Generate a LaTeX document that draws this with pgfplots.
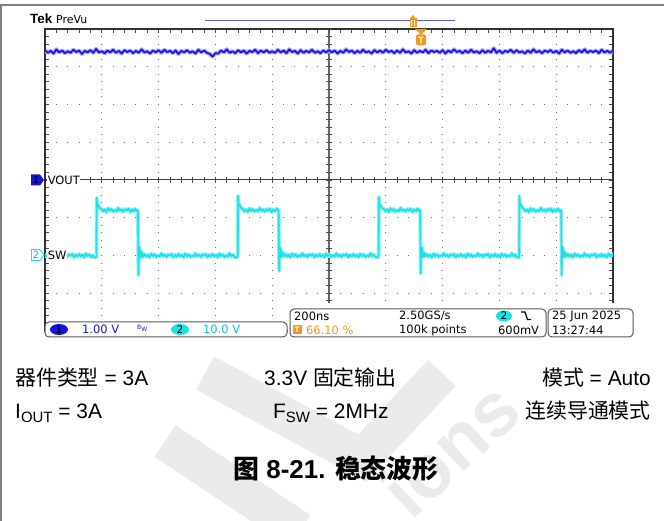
\documentclass[border=0pt]{standalone}
\usepackage{pgfplots}
\usepackage{pgfplotstable}
\pgfplotsset{compat=1.18}
\usepackage{fontspec}
\setmainfont{Liberation Sans}
\newfontfamily\cjk{Noto Sans CJK SC}
\newfontfamily\tekfont{DejaVu Sans}
\newcommand\fs[1]{\fontsize{#1}{#1}\selectfont}

\definecolor{chone}{RGB}{20,20,225}
\definecolor{chtwo}{RGB}{30,225,230}
\definecolor{chtwotxt}{RGB}{0,200,210}
\definecolor{trig}{RGB}{245,150,30}
\definecolor{grat}{RGB}{110,110,110}
\definecolor{recbar}{RGB}{90,90,230}

% VOUT, x in divisions (200 ns/div), y in divisions (1 V/div, ground at 0)
\pgfplotstableread{
x y
0.00 3.44
0.05 3.37
0.10 3.42
0.15 3.35
0.20 3.46
0.25 3.38
0.30 3.43
0.35 3.36
0.40 3.41
0.45 3.37
0.50 3.45
0.55 3.39
0.60 3.43
0.65 3.34
0.70 3.42
0.75 3.38
0.80 3.44
0.85 3.37
0.90 3.47
0.95 3.38
1.00 3.41
1.05 3.36
1.10 3.43
1.15 3.38
1.20 3.45
1.25 3.37
1.30 3.42
1.35 3.35
1.40 3.44
1.45 3.39
1.50 3.43
1.55 3.36
1.60 3.42
1.65 3.37
1.70 3.46
1.75 3.38
1.80 3.41
1.85 3.35
1.90 3.43
1.95 3.38
2.00 3.44
2.05 3.37
2.10 3.45
2.15 3.39
2.20 3.42
2.25 3.36
2.30 3.43
2.35 3.34
2.40 3.42
2.45 3.38
2.50 3.44
2.55 3.37
2.60 3.41
2.65 3.35
2.70 3.45
2.75 3.38
2.80 3.43
2.85 3.37
2.90 3.34
2.95 3.27
3.00 3.36
3.05 3.35
3.10 3.43
3.15 3.38
3.20 3.46
3.25 3.37
3.30 3.41
3.35 3.36
3.40 3.44
3.45 3.38
3.50 3.43
3.55 3.35
3.60 3.42
3.65 3.39
3.70 3.45
3.75 3.36
3.80 3.43
3.85 3.38
3.90 3.44
3.95 3.37
4.00 3.41
4.05 3.37
4.10 3.45
4.15 3.38
4.20 3.43
4.25 3.36
4.30 3.46
4.35 3.39
4.40 3.42
4.45 3.35
4.50 3.44
4.55 3.37
4.60 3.42
4.65 3.38
4.70 3.45
4.75 3.37
4.80 3.41
4.85 3.36
4.90 3.43
4.95 3.38
5.00 3.44
5.05 3.38
5.10 3.43
5.15 3.35
5.20 3.42
5.25 3.37
5.30 3.46
5.35 3.39
5.40 3.43
5.45 3.36
5.50 3.42
5.55 3.37
5.60 3.45
5.65 3.38
5.70 3.41
5.75 3.35
5.80 3.44
5.85 3.38
5.90 3.43
5.95 3.37
6.00 3.45
6.05 3.39
6.10 3.42
6.15 3.36
6.20 3.43
6.25 3.37
6.30 3.46
6.35 3.38
6.40 3.41
6.45 3.35
6.50 3.44
6.55 3.37
6.60 3.42
6.65 3.38
6.70 3.45
6.75 3.36
6.80 3.43
6.85 3.39
6.90 3.42
6.95 3.37
7.00 3.44
7.05 3.35
7.10 3.43
7.15 3.38
7.20 3.46
7.25 3.39
7.30 3.42
7.35 3.36
7.40 3.43
7.45 3.37
7.50 3.45
7.55 3.38
7.60 3.41
7.65 3.36
7.70 3.44
7.75 3.37
7.80 3.42
7.85 3.38
7.90 3.49
7.95 3.37
8.00 3.43
8.05 3.36
8.10 3.42
8.15 3.39
8.20 3.45
8.25 3.37
8.30 3.44
8.35 3.38
8.40 3.41
8.45 3.35
8.50 3.43
8.55 3.37
8.60 3.46
8.65 3.38
8.70 3.42
8.75 3.36
8.80 3.43
8.85 3.39
8.90 3.44
8.95 3.37
9.00 3.42
9.05 3.35
9.10 3.45
9.15 3.38
9.20 3.43
9.25 3.37
9.30 3.41
9.35 3.36
9.40 3.44
9.45 3.38
9.50 3.46
9.55 3.37
9.60 3.42
9.65 3.39
9.70 3.43
9.75 3.36
9.80 3.45
9.85 3.38
9.90 3.42
9.95 3.37
10.00 3.43
}\vout

% SW, x in divisions, y in divisions (10 V/div, ground at -2)
\pgfplotstableread{
x y
0.00 -1.96
0.03 -2.03
0.06 -1.98
0.09 -2.05
0.12 -1.95
0.15 -2.02
0.18 -1.97
0.21 -2.04
0.24 -1.99
0.27 -2.03
0.30 -1.94
0.33 -2.02
0.36 -1.98
0.39 -2.04
0.42 -1.97
0.45 -2.01
0.48 -1.96
0.51 -2.05
0.54 -1.98
0.57 -2.03
0.60 -1.96
0.63 -2.03
0.66 -1.98
0.69 -2.05
0.72 -1.95
0.75 -2.02
0.78 -1.97
0.81 -2.04
0.84 -1.99
0.87 -2.06
0.90 -2.04
0.905 -2.02
0.910 -0.47
0.918 -0.62
0.926 -0.70
0.94 -0.66
0.96 -0.74
0.99 -0.76
1.02 -0.83
1.05 -0.78
1.08 -0.85
1.11 -0.75
1.14 -0.82
1.17 -0.77
1.20 -0.84
1.23 -0.79
1.26 -0.83
1.29 -0.74
1.32 -0.82
1.35 -0.78
1.38 -0.84
1.41 -0.77
1.44 -0.81
1.47 -0.76
1.50 -0.85
1.53 -0.78
1.56 -0.83
1.59 -0.76
1.62 -0.83
1.632 -0.80
1.637 -0.84
1.645 -2.52
1.652 -1.95
1.665 -1.78
1.68 -2.05
1.70 -1.90
1.72 -2.04
1.75 -1.96
1.78 -2.03
1.81 -1.98
1.84 -2.05
1.87 -1.95
1.90 -2.02
1.93 -1.97
1.96 -2.04
1.99 -1.99
2.02 -2.03
2.05 -1.94
2.08 -2.02
2.11 -1.98
2.14 -2.04
2.17 -1.97
2.20 -2.01
2.23 -1.96
2.26 -2.05
2.29 -1.98
2.32 -2.03
2.35 -1.96
2.38 -2.03
2.41 -1.98
2.44 -2.05
2.47 -1.95
2.50 -2.02
2.53 -1.97
2.56 -2.04
2.59 -1.99
2.62 -2.03
2.65 -1.94
2.68 -2.02
2.71 -1.98
2.74 -2.04
2.77 -1.97
2.80 -2.01
2.83 -1.96
2.86 -2.05
2.89 -1.98
2.92 -2.03
2.95 -1.96
2.98 -2.03
3.01 -1.98
3.04 -2.05
3.07 -1.95
3.10 -2.02
3.13 -1.97
3.16 -2.04
3.19 -1.99
3.22 -2.03
3.25 -1.94
3.28 -2.02
3.31 -1.98
3.34 -2.04
3.37 -2.06
3.395 -2.02
3.400 -0.42
3.408 -0.60
3.416 -0.70
3.43 -0.66
3.45 -0.74
3.48 -0.76
3.51 -0.83
3.54 -0.78
3.57 -0.85
3.60 -0.75
3.63 -0.82
3.66 -0.77
3.69 -0.84
3.72 -0.79
3.75 -0.83
3.78 -0.74
3.81 -0.82
3.84 -0.78
3.87 -0.84
3.90 -0.77
3.93 -0.81
3.96 -0.76
3.99 -0.85
4.02 -0.78
4.05 -0.83
4.08 -0.76
4.11 -0.81
4.114 -0.83
4.122 -2.41
4.13 -1.92
4.145 -1.80
4.16 -2.04
4.18 -1.91
4.20 -2.03
4.23 -1.96
4.26 -2.03
4.29 -1.98
4.32 -2.05
4.35 -1.95
4.38 -2.02
4.41 -1.97
4.44 -2.04
4.47 -1.99
4.50 -2.03
4.53 -1.94
4.56 -2.02
4.59 -1.98
4.62 -2.04
4.65 -1.97
4.68 -2.01
4.71 -1.96
4.74 -2.05
4.77 -1.98
4.80 -2.03
4.83 -1.96
4.86 -2.03
4.89 -1.98
4.92 -2.05
4.95 -1.95
4.98 -2.02
5.01 -1.97
5.04 -2.04
5.07 -1.99
5.10 -2.03
5.13 -1.94
5.16 -2.02
5.19 -1.98
5.22 -2.04
5.25 -1.97
5.28 -2.01
5.31 -1.96
5.34 -2.05
5.37 -1.98
5.40 -2.03
5.43 -1.96
5.46 -2.03
5.49 -1.98
5.52 -2.05
5.55 -1.95
5.58 -2.02
5.61 -1.97
5.64 -2.04
5.67 -1.99
5.70 -2.03
5.73 -1.94
5.76 -2.02
5.79 -1.98
5.82 -2.04
5.85 -2.06
5.873 -2.02
5.878 -0.45
5.886 -0.62
5.894 -0.70
5.91 -0.67
5.93 -0.74
5.96 -0.76
5.99 -0.83
6.02 -0.78
6.05 -0.85
6.08 -0.75
6.11 -0.82
6.14 -0.77
6.17 -0.84
6.20 -0.79
6.23 -0.83
6.26 -0.74
6.29 -0.82
6.32 -0.78
6.35 -0.84
6.38 -0.77
6.41 -0.81
6.44 -0.76
6.47 -0.85
6.50 -0.78
6.53 -0.83
6.56 -0.76
6.59 -0.82
6.60 -0.80
6.605 -0.83
6.613 -2.47
6.62 -1.93
6.635 -1.79
6.65 -2.05
6.67 -1.91
6.69 -2.03
6.72 -1.96
6.75 -2.03
6.78 -1.98
6.81 -2.05
6.84 -1.95
6.87 -2.02
6.90 -1.97
6.93 -2.04
6.96 -1.99
6.99 -2.03
7.02 -1.94
7.05 -2.02
7.08 -1.98
7.11 -2.04
7.14 -1.97
7.17 -2.01
7.20 -1.96
7.23 -2.05
7.26 -1.98
7.29 -2.03
7.32 -1.96
7.35 -2.03
7.38 -1.98
7.41 -2.05
7.44 -1.95
7.47 -2.02
7.50 -1.97
7.53 -2.04
7.56 -1.99
7.59 -2.03
7.62 -1.94
7.65 -2.02
7.68 -1.98
7.71 -2.04
7.74 -1.97
7.77 -2.01
7.80 -1.96
7.83 -2.05
7.86 -1.98
7.89 -2.03
7.92 -1.96
7.95 -2.03
7.98 -1.98
8.01 -2.05
8.04 -1.95
8.07 -2.02
8.10 -1.97
8.13 -2.04
8.16 -1.99
8.19 -2.03
8.22 -1.94
8.25 -2.02
8.28 -1.98
8.31 -2.04
8.34 -2.06
8.348 -2.02
8.352 -0.42
8.36 -0.60
8.37 -0.70
8.385 -0.66
8.405 -0.74
8.43 -0.76
8.46 -0.83
8.49 -0.78
8.52 -0.85
8.55 -0.75
8.58 -0.82
8.61 -0.77
8.64 -0.84
8.67 -0.79
8.70 -0.83
8.73 -0.74
8.76 -0.82
8.79 -0.78
8.82 -0.84
8.85 -0.77
8.88 -0.81
8.91 -0.76
8.94 -0.85
8.97 -0.78
9.00 -0.83
9.03 -0.76
9.06 -0.83
9.08 -0.80
9.088 -0.83
9.095 -2.52
9.10 -1.93
9.115 -1.78
9.13 -2.05
9.15 -1.91
9.17 -2.03
9.20 -1.96
9.23 -2.03
9.26 -1.98
9.29 -2.05
9.32 -1.95
9.35 -2.02
9.38 -1.97
9.41 -2.04
9.44 -1.99
9.47 -2.03
9.50 -1.94
9.53 -2.02
9.56 -1.98
9.59 -2.04
9.62 -1.97
9.65 -2.01
9.68 -1.96
9.71 -2.05
9.74 -1.98
9.77 -2.03
9.80 -1.96
9.83 -2.03
9.86 -1.98
9.89 -2.05
9.92 -1.95
9.95 -2.02
9.98 -1.97
10.00 -2.03
}\sw

\begin{document}
\begin{tikzpicture}[x=1bp,y=1bp]
\useasboundingbox (0,0) rectangle (664,521);

% watermark
\draw[line width=38bp, black!8, line join=miter] (205,148) -- (362,63) -- (442,148);
\draw[line width=38bp, black!8] (165,80) -- (300,-10);
\node[black!8, rotate=43, inner sep=0] at (450,72) {\fs{76}\bfseries ions};

% page frame
\draw[black!50, line width=2bp] (0,516) -- (664,516);
\draw[black!50, line width=1.5bp] (1,0) -- (1,516);

% graticule (x 45..613, y 190..492)
\foreach \i in {1,2,3,4,6,7,8,9}
  \draw[grat, line width=1bp, dash pattern=on 1bp off 6.55bp, dash phase=0.5bp]
    ({45+\i*56.8},190) -- ({45+\i*56.8},492);
\foreach \j in {1,2,3,5,6,7}
  \draw[grat, line width=1bp, dash pattern=on 1bp off 10.36bp, dash phase=0.5bp]
    (45,{190+\j*37.75}) -- (613,{190+\j*37.75});
\draw[black!60, line width=1.2bp] (329,190) -- (329,492);
\draw[black!75, line width=1bp] (45,341) -- (613,341);
\foreach \j in {1,...,39} {
  \draw[black!70, line width=0.8bp] (45,{190+\j*7.55}) -- ++(4,0);
  \draw[black!70, line width=0.8bp] (613,{190+\j*7.55}) -- ++(-4,0);
  \draw[black!70, line width=0.8bp] (326,{190+\j*7.55}) -- ++(6,0);
}
\foreach \i in {1,...,49} {
  \draw[black!70, line width=0.8bp] ({45+\i*11.36},492) -- ++(0,-4);
  \draw[black!70, line width=0.8bp] ({45+\i*11.36},338) -- ++(0,6);
}
\draw[black!80, line width=1.2bp] (45,190) rectangle (613,492);

\begin{axis}[
  at={(45bp,190bp)}, anchor=south west,
  scale only axis, width=568bp, height=302bp,
  xmin=0, xmax=10, ymin=-4, ymax=4,
  hide axis, clip=true,
]
\addplot[chone!35, line width=4.2bp, line join=round] table[x=x,y=y] {\vout};
\addplot[chone, line width=1.7bp, line join=round] table[x=x,y=y] {\vout};
\addplot[chtwo!50, line width=3.8bp, line join=round] table[x=x,y=y] {\sw};
\addplot[chtwo, line width=1.6bp, line join=round] table[x=x,y=y] {\sw};
\end{axis}

% channel labels and ground markers
\node[anchor=west, fill=white, inner sep=0.6bp] at (47,341) {\tekfont\fs{11.5}VOUT};
\node[anchor=west, fill=white, inner sep=0.6bp] at (47,266) {\tekfont\fs{11.5}SW};
\fill[chone] (31,335.5) -- (40,335.5) -- (44,341) -- (40,346.5) -- (31,346.5) -- cycle;
\node at (36,341) {\tekfont\fs{10}1};
\draw[chtwo, fill=white, line width=0.9bp] (31.5,260.5) -- (40,260.5) -- (44,266) -- (40,271.5) -- (31.5,271.5) -- cycle;
\node[chtwotxt] at (36,266) {\tekfont\fs{10}2};

% top header
\node[anchor=base west, inner sep=0] at (30,497) {\fs{13.5}\bfseries Tek};
\node[anchor=base west, inner sep=0] at (56,497) {\tekfont\fs{11}PreVu};
\draw[recbar, line width=1bp] (205,500) -- (455,500);
\fill[trig] (409.5,494) rectangle (416.5,503) ;
\fill[trig] (410.5,503) -- (415.5,503) -- (413,506) -- cycle;
\draw[white, line width=0.8bp] (411.5,495) -- (411.5,500.5) (414.5,495) -- (414.5,500.5);
\fill[trig] (415,492) -- (427,492) -- (421,486) -- cycle;
\fill[trig, rounded corners=1.5bp] (416,475.5) rectangle (426,486.5);
\node[white] at (421,481) {\fs{9}\bfseries T};

% readout bar
\fill[white] (288,180) rectangle (640,218);
\draw[black!65, fill=white, line width=1bp, rounded corners=4bp] (45,184) rectangle (287,199);
\draw[black!65, fill=white, line width=1bp, rounded corners=4bp] (290,184) rectangle (546,212);
\draw[black!65, fill=white, line width=1bp, rounded corners=4bp] (548,184) rectangle (633,212);
\fill[chone] (59,191.5) ellipse (9 and 5.5);
\node at (59,191.5) {\tekfont\fs{10.5}1};
\node[anchor=west, inner sep=0, chone] at (82,191.5) {\tekfont\fs{11.5}1.00 V};
\node[anchor=west, inner sep=0, chone] at (137,192.5) {\tekfont\fs{6}B\raisebox{-2bp}{W}};
\fill[chtwo] (180,191.5) ellipse (9 and 5.5);
\node at (180,191.5) {\tekfont\fs{10.5}2};
\node[anchor=west, inner sep=0, chtwotxt] at (203,191.5) {\tekfont\fs{11.5}10.0 V};

\node[anchor=west, inner sep=0] at (294,205) {\tekfont\fs{11.5}200ns};
\fill[trig] (292.5,186.5) rectangle (301.5,196);
\node[white] at (297,191.2) {\fs{8}\bfseries T};
\node[anchor=west, inner sep=0, trig] at (306,191) {\tekfont\fs{11.5}66.10 \%};
\node[anchor=west, inner sep=0] at (399,205) {\tekfont\fs{11.5}2.50GS/s};
\node[anchor=west, inner sep=0] at (399,191) {\tekfont\fs{11.5}100k points};
\fill[chtwo] (504,205) ellipse (8 and 5.5);
\node at (504,205) {\tekfont\fs{10.5}2};
\draw[line width=1.2bp] (521,209) -- (525,209) -- (527.5,201.5) -- (531,201.5);
\node[anchor=west, inner sep=0] at (498,191) {\tekfont\fs{11.5}600mV};
\node[anchor=west, inner sep=0] at (552,205) {\tekfont\fs{11.5}25 Jun 2025};
\node[anchor=west, inner sep=0] at (552,191) {\tekfont\fs{11.5}13:27:44};

% conditions below the screenshot
\node[anchor=base west, inner sep=0] at (15,135) {\fs{21}{\cjk 器件类型} = 3A};
\node[anchor=base west, inner sep=0] at (264,135) {\fs{21}3.3V {\cjk 固定输出}};
\node[anchor=base east, inner sep=0] at (651,135) {\fs{21}{\cjk 模式} = Auto};
\node[anchor=base west, inner sep=0] at (15,102) {\fs{21}I\raisebox{-4bp}{\fs{15}OUT} = 3A};
\node[anchor=base west, inner sep=0] at (273,102) {\fs{21}F\raisebox{-4bp}{\fs{15}SW} = 2MHz};
\node[anchor=base east, inner sep=0] at (651,102) {\fs{21}\cjk 连续导通模式};
\node[anchor=base, inner sep=0] at (336,42) {\fs{26}\bfseries{\cjk 图} 8-21. {\cjk 稳态波形}};
\end{tikzpicture}
\end{document}
